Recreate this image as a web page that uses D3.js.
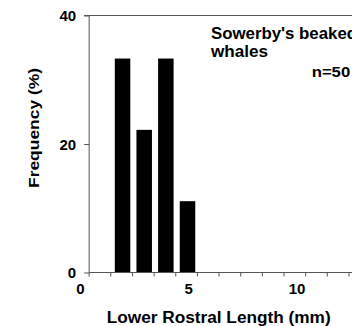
<!DOCTYPE html>
<html><head><meta charset="utf-8">
<script src="https://cdn.jsdelivr.net/npm/d3@7"></script>
<style>body{margin:0;background:#fff}svg{display:block}text{font-family:Arial,"Liberation Sans",sans-serif;font-weight:bold;fill:#000}</style>
</head><body>
<script>
const categories = [2, 3, 4, 5];
const frequency = [33.3, 22.2, 33.3, 11.1];
const xTickLabels = [0, 5, 10];
const yTickValues = [0, 20, 40];

const W = 352, H = 326;
const svg = d3.select("body").append("svg").attr("width", W).attr("height", H);

const y = d3.scaleLinear().domain([0, 40]).range([272.5, 15.5]);
const x = d3.scaleLinear().domain([0, 10]).range([80.5, 297]);
const axisStart = 0.4;
const xTickPos = d3.range(axisStart, 14, 1);

function stretch(sel, k) {
  sel.each(function () {
    const w = this.getComputedTextLength();
    d3.select(this).attr("textLength", w * k).attr("lengthAdjust", "spacingAndGlyphs");
  });
}

// bars
svg.selectAll("rect.bar").data(categories).join("rect")
  .attr("class", "bar")
  .attr("x", d => x(d) - 9)
  .attr("width", 15.5)
  .attr("y", (d, i) => y(frequency[i]))
  .attr("height", (d, i) => y(0) - y(frequency[i]))
  .attr("fill", "#000");

const lc = "#555";
// y axis
const yAxis = d3.axisLeft(y).tickValues(yTickValues).tickSize(5).tickFormat(d3.format("d"));
const gy = svg.append("g").attr("transform", `translate(${x(axisStart)},0)`).call(yAxis);
gy.select(".domain").attr("stroke", lc).attr("d", `M-5,${y(40)}H0V${y(0)}`);
gy.selectAll(".tick line").attr("stroke", lc);
gy.selectAll(".tick text").attr("x", -13).attr("dy", "5px")
  .style("font-size", "15px").style("font-family", "Arial, 'Liberation Sans', sans-serif")
  .style("font-weight", "bold").attr("fill", "#000");
gy.attr("font-size", null);

// top frame line
svg.append("line").attr("x1", x(axisStart)).attr("x2", W).attr("y1", y(40)).attr("y2", y(40)).attr("stroke", lc);

// x axis
const gx = svg.append("g").attr("transform", `translate(0,${y(0)})`);
gx.append("line").attr("x1", x(axisStart)).attr("x2", W).attr("stroke", lc);
gx.selectAll("line.tk").data(xTickPos).join("line").attr("class", "tk")
  .attr("x1", d => x(d)).attr("x2", d => x(d)).attr("y1", 0).attr("y2", 4).attr("stroke", lc);
gx.selectAll("text").data(xTickLabels).join("text")
  .attr("x", d => x(d)).attr("y", 21.5).attr("text-anchor", "middle").style("font-size", "15px").text(d => d);

// axis titles
svg.append("text").attr("x", 106.7).attr("y", 322.5).style("font-size", "16px")
  .attr("textLength", 224).attr("lengthAdjust", "spacingAndGlyphs").text("Lower Rostral Length (mm)");
svg.append("text").attr("transform", "translate(38.5,128) rotate(-90)").attr("text-anchor", "middle")
  .style("font-size", "15px").attr("textLength", 120).attr("lengthAdjust", "spacingAndGlyphs").text("Frequency (%)");

// annotation
svg.append("text").attr("x", 211).attr("y", 38.5).style("font-size", "16px")
  .attr("textLength", 146).attr("lengthAdjust", "spacingAndGlyphs").text("Sowerby's beaked");
svg.append("text").attr("x", 211).attr("y", 57).style("font-size", "16px")
  .attr("textLength", 57).attr("lengthAdjust", "spacingAndGlyphs").text("whales");
svg.append("text").attr("x", 311.7).attr("y", 77.3).style("font-size", "15px")
  .attr("textLength", 38.5).attr("lengthAdjust", "spacingAndGlyphs").text("n=50");
</script>
</body></html>
